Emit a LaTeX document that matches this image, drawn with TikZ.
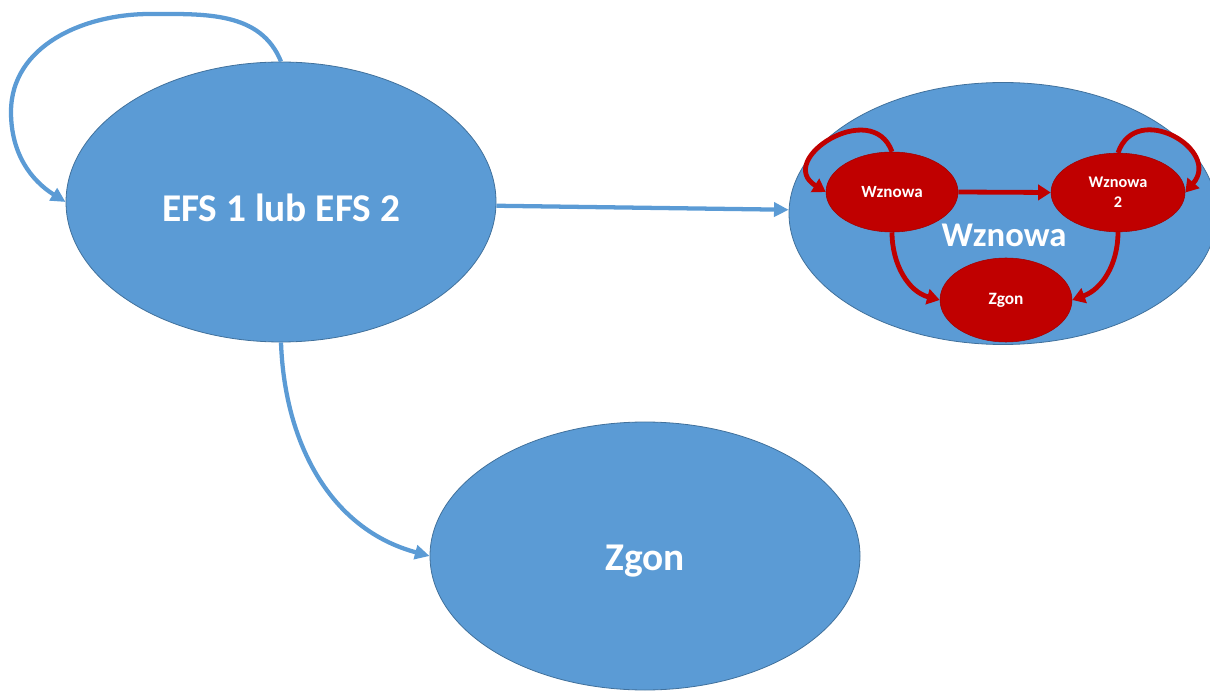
\documentclass[tikz,border=0pt]{standalone}
\usepackage{fontspec}
\setmainfont{Carlito}
\usetikzlibrary{shapes.geometric,arrows.meta}
\definecolor{ofblue}{HTML}{5B9BD5}
\definecolor{ofborder}{HTML}{41719C}
\definecolor{ofred}{HTML}{C00000}
\tikzset{
  bigell/.style={ellipse, fill=ofblue, draw=ofborder, line width=0.6pt, inner sep=0pt, text=white, font=\bfseries},
  redell/.style={ellipse, fill=ofred, draw=ofred!85!black, line width=0.4pt, inner sep=0pt, text=white, align=center},
  blueconn/.style={draw=ofblue, line width=3.2pt, -{Triangle[length=11pt,width=10.5pt]}},
  redconn/.style={draw=ofred, line width=3.6pt, -{Triangle[length=9.5pt,width=11.5pt]}}
}
\begin{document}
\begin{tikzpicture}[x=0.75pt,y=0.75pt]
\useasboundingbox (0,0) rectangle (1210,-691);
% big nodes
\node[bigell, minimum width=322.5pt, minimum height=210pt] (efs) at (281,-202)
  {\fontsize{29.5}{32}\selectfont\raisebox{-4.5pt}[\height][\depth]{EFS 1 lub EFS 2}};
\node[bigell, minimum width=321pt, minimum height=196.5pt] (wz) at (1003,-213.5) {};
\node[bigell, minimum width=322.5pt, minimum height=201pt] (zg) at (645,-556)
  {\fontsize{29.5}{32}\selectfont\raisebox{-3.5pt}[\height][\depth]{Zgon}};
\node[text=white, font=\bfseries\fontsize{26}{28}\selectfont] (wztext) at (1004,-235) {Wznowa};
% red nodes
\node[redell, font=\bfseries\fontsize{12.8}{14}\selectfont, minimum width=99pt, minimum height=60pt] (rw) at (892,-192) {Wznowa};
\node[redell, font=\bfseries\fontsize{12.2}{15}\selectfont, minimum width=100.5pt, minimum height=59pt] (rw2) at (1118,-192.5) {Wznowa\\[0pt]2};
\node[redell, font=\bfseries\fontsize{13}{15}\selectfont, minimum width=99pt, minimum height=63pt] (rz) at (1006,-300) {Zgon};
% blue connectors
\coordinate (lp1) at (150,-14);
\coordinate (lp2) at (11,-112);
\draw[blueconn] (efs.north) to[out=112,in=0] (lp1) to[out=180,in=90] (lp2) to[out=-90,in=148] (efs.west);
\draw[blueconn] (efs.-1) -- (wz.179);
\draw[blueconn] (efs.south) to[out=-88,in=165] (zg.west);
% red connectors
\draw[redconn] (rw.north) .. controls (872,-97) and (774,-160) .. (rw.west);
\draw[redconn] (rw2.north) .. controls (1136,-100) and (1222,-150) .. (rw2.east);
\draw[redconn] (rw.east) -- (rw2.west);
\draw[redconn] (rw.south) to[out=-90,in=165] (rz.west);
\draw[redconn] (rw2.south) to[out=-90,in=20] (rz.east);
\end{tikzpicture}
\end{document}
